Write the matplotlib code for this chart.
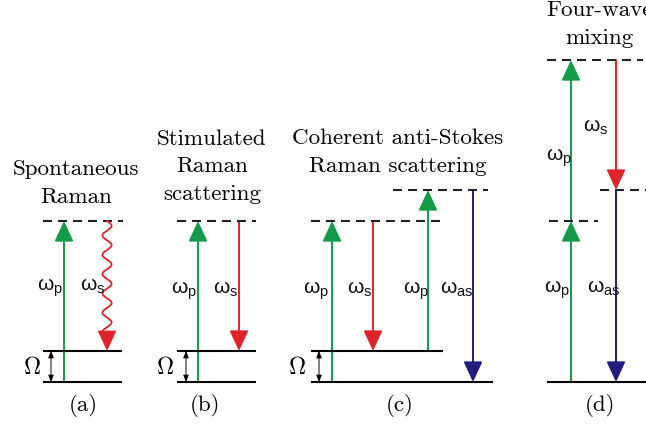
import numpy as np
import matplotlib
matplotlib.use('Agg')
import matplotlib.pyplot as plt
from matplotlib.patches import FancyArrowPatch, ArrowStyle

# energies in picture units (1 unit = 1 px), measured from the ground state
Omega = 31
omega_p = 161
omega_s = omega_p - Omega
omega_as = omega_p + Omega

# energy levels: energy, x start, x end, dashed (virtual) or not
level_E = [0, Omega, omega_p,
           0, Omega, omega_p,
           0, Omega, omega_p, omega_as,
           0, omega_p, 2 * omega_p, omega_as]
level_x0 = [43, 43, 43, 177, 177, 177, 311, 311, 311, 393, 547, 549, 547, 600]
level_x1 = [122, 122, 123, 256, 256, 256, 493, 443, 445, 488, 646, 598, 643, 646]
level_virtual = [False, False, True, False, False, True,
                 False, False, True, True, False, True, True, True]

# transitions: x, start energy, end energy, beam
arrow_x = [64, 107, 198, 239, 332, 373, 428, 473, 571, 571, 616, 616]
arrow_from = [0, omega_p, 0, omega_p, 0, omega_p, Omega, omega_as, 0, omega_p, 2 * omega_p, omega_as]
arrow_to = [omega_p, Omega, omega_p, Omega, omega_p, Omega, omega_as, 0, omega_p, 2 * omega_p, omega_as, 0]
arrow_beam = ['p', 's', 'p', 's', 'p', 's', 'p', 'as', 'p', 'p', 's', 'as']
arrow_wavy = [False, True] + [False] * 10

# frequency labels
label_beam = ['p', 's', 'p', 's', 'p', 's', 'p', 'as', 's', 'p', 'p', 'as']
label_x = [37, 80, 171, 213, 303, 347, 403, 440, 583, 546, 544, 587]
label_y = [290, 290, 293, 293, 293, 293, 293, 293, 131, 160, 292, 292]

# Omega double arrows between ground and vibrational level
omega_arrow_x = [51, 186, 319]
omega_text_x = [32, 165, 297]

panel_titles = [['Spontaneous', 'Raman'],
                ['Stimulated', 'Raman', 'scattering'],
                ['Coherent anti-Stokes', 'Raman scattering'],
                ['Four-wave', 'mixing']]
title_x = [76, 212, 398, 599]
title_last_base = [203, 200, 172, 44]
panel_tags = ['(a)', '(b)', '(c)', '(d)']
tag_x = [83, 205, 400, 600]

colors = {'p': '#149a48', 's': '#e0232a', 'as': '#221d7c'}

y_base = 383
H = 427


def main():
    fig = plt.figure(figsize=(6.46, 4.27), dpi=100)
    ax = fig.add_axes([0, 0, 1, 1])
    ax.set_xlim(0, 646)
    ax.set_ylim(y_base - H, y_base)
    ax.axis('off')

    lw = 1.5
    for E, x0, x1, virt in zip(level_E, level_x0, level_x1, level_virtual):
        ls = (0, (4.3, 2.9)) if virt else '-'
        ax.plot([x0, x1], [E, E], color='#222222' if virt else 'black', lw=lw, ls=ls,
                solid_capstyle='butt', dash_capstyle='butt')

    head = ArrowStyle('-|>', head_length=12.5, head_width=5.8)
    for x, e0, e1, beam, wavy in zip(arrow_x, arrow_from, arrow_to, arrow_beam, arrow_wavy):
        c = colors[beam]
        if wavy:
            # wavy photon line, then a straight head
            sign = np.sign(e1 - e0)
            e_mid = e1 - sign * 19
            t = np.linspace(0, 1, 300)
            ee = e0 + (e_mid - e0) * t
            xx = x + 4.6 * np.sin(2 * np.pi * 5.75 * t)
            ax.plot(xx, ee, color=c, lw=1.3)
            a = FancyArrowPatch((x, e_mid), (x, e1), arrowstyle=head, color=c, lw=1.3,
                                shrinkA=0, shrinkB=0, mutation_scale=1)
        else:
            a = FancyArrowPatch((x, e0), (x, e1), arrowstyle=head, color=c, lw=1.4,
                                shrinkA=0, shrinkB=0, mutation_scale=1)
        ax.add_patch(a)

    for beam, x, y in zip(label_beam, label_x, label_y):
        ax.text(x, y_base - y, 'ω$_{\\mathregular{%s}}$' % beam, fontsize=15,
                family='Liberation Sans', ha='left', va='baseline', color='#111111')

    small = ArrowStyle('<|-|>', head_length=4, head_width=1.6)
    for x, tx in zip(omega_arrow_x, omega_text_x):
        ax.add_patch(FancyArrowPatch((x, 0), (x, Omega), arrowstyle=small, color='black',
                                     lw=0.7, shrinkA=0, shrinkB=0, mutation_scale=1))
        ax.text(tx, Omega / 2, r'$\Omega$', math_fontfamily='cm', fontsize=17,
                ha='center', va='center')

    for lines, x, yb in zip(panel_titles, title_x, title_last_base):
        n = len(lines)
        for i, line in enumerate(lines):
            y = yb - (n - 1 - i) * 27.5
            ax.text(x, y_base - y, line, family='cmr10', fontsize=16.6,
                    ha='center', va='baseline')

    for tag, x in zip(panel_tags, tag_x):
        ax.text(x, y_base - 411, tag, family='cmr10', fontsize=16.6,
                ha='center', va='baseline')

    fig.savefig('out.png', dpi=100)


if __name__ == '__main__':
    main()
